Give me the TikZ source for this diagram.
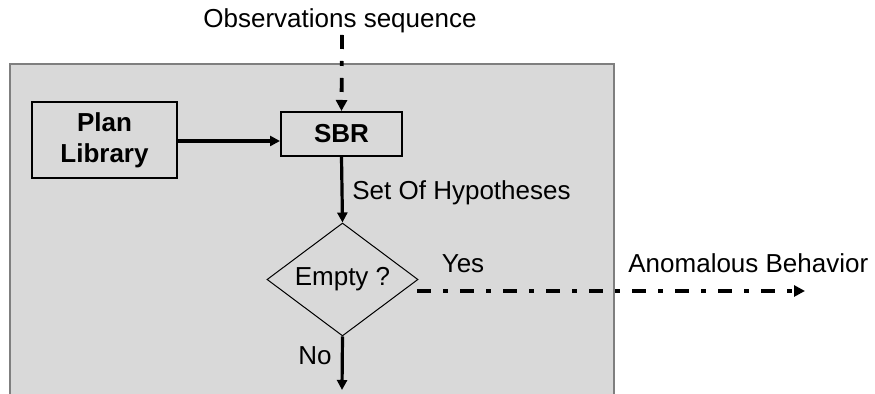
\documentclass[tikz,border=0pt]{standalone}
\usepackage{fontspec}
\setmainfont{Liberation Sans}
\usetikzlibrary{shapes.geometric,arrows.meta}
\definecolor{panelgray}{HTML}{D9D9D9}
\definecolor{panelborder}{HTML}{7F7F7F}
\begin{document}
\begin{tikzpicture}[x=0.5pt,y=-0.5pt,
  lbl/.style={inner sep=0pt,font=\fontsize{13}{15.5}\selectfont},
  boxnode/.style={draw=black,line width=1pt,inner sep=0pt,font=\fontsize{13}{15.5}\selectfont\bfseries,align=center},
  decision/.style={diamond,draw=black,line width=0.5pt,inner sep=0pt,aspect=1.336,minimum width=75.5pt,minimum height=56.5pt,font=\fontsize{13}{15.5}\selectfont},
  solidarrow/.style={line width=1.6pt,-{Triangle[length=5pt,width=5pt]}},
  dasharrow/.style={line width=1.9pt,dash pattern=on 7pt off 6pt on 2.5pt off 6pt,-{Triangle[length=5.5pt,width=5.5pt]}}
]
\useasboundingbox (0,0) rectangle (875,394);
% panel
\fill[panelgray] (10,64) rectangle (614,394);
\draw[panelborder,line width=0.75pt] (10,394) -- (10,64) -- (614,64) -- (614,394);
% nodes
\node[lbl,anchor=base] (obs) at (340,28) {Observations sequence};
\coordinate (obsend) at (342,35);
\node[boxnode,minimum width=72.5pt,minimum height=38pt] (plan) at (104.5,140) {Plan\\Library};
\node[boxnode,minimum width=60.5pt,minimum height=22pt] (sbr) at (341.5,134) {SBR};
\node[decision] (dia) at (342.5,279.5) {Empty ?};
\node[lbl,anchor=base west] (hyp) at (352,200) {Set Of Hypotheses};
\node[lbl,anchor=base] (yes) at (463,273) {Yes};
\node[lbl,anchor=base] (no) at (315,365) {No};
\node[lbl,anchor=base west] (anom) at (628,273) {Anomalous Behavior};
\coordinate (yesstart) at (417,291);
\coordinate (anomend) at (805,291);
\coordinate (noend) at (342,390);
% connectors
\draw[dasharrow] (obsend) -- (sbr.north);
\draw[solidarrow] ([yshift=-0.5pt]plan.east) -- ([yshift=-0.5pt]plan.east -| sbr.west);
\draw[solidarrow] (sbr.south) -- (dia.north);
\draw[solidarrow] (dia.south) -- (noend);
\draw[dasharrow] (yesstart) -- (anomend);
\end{tikzpicture}
\end{document}
